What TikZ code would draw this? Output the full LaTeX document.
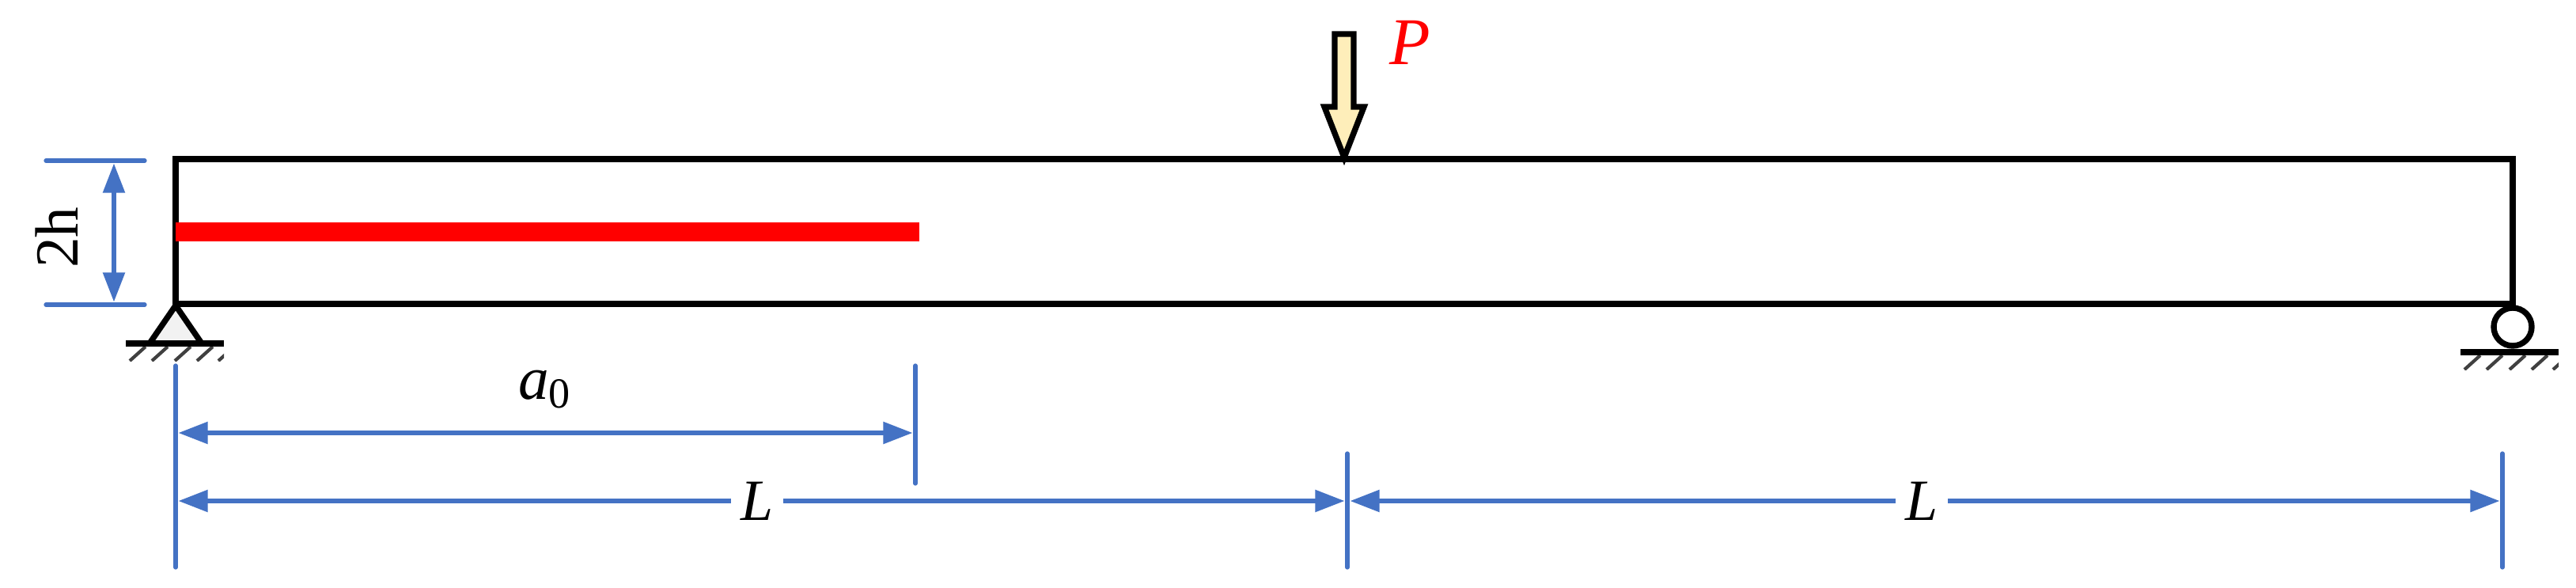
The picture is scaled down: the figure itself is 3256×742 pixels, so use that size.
\documentclass[tikz,border=0pt]{standalone}
\usepackage{fontspec}
\setmainfont{Liberation Serif}
\usetikzlibrary{arrows.meta}
\definecolor{dimblue}{HTML}{4472C4}
\definecolor{loadfill}{HTML}{FEEEBA}
\definecolor{hingefill}{HTML}{F2F2F2}
\tikzset{
	beam/.style={black,line width=2.1pt},
	dimline/.style={dimblue,line width=1.5pt,line cap=round},
	dimarrow/.style={dimblue,line width=1.5pt,{Triangle[length=3.7mm,width=2.7mm]}-{Triangle[length=3.7mm,width=2.7mm]},shorten <=1pt,shorten >=1pt},
	dimtext/.style={font=\fontsize{21}{21}\selectfont,inner sep=0pt}
}
\begin{document}
\begin{tikzpicture}[x=0.01cm,y=-0.01cm]
		\useasboundingbox (0,0) rectangle (3256,742);
		%beam and crack
		\draw[beam] (222,201) rectangle (3176,384);
		\fill[red] (222,281) rectangle (1162,305);
		%load
		\draw[beam,fill=loadfill,line join=miter] (1687,43) -- (1711,43) -- (1711,135) -- (1724,135) -- (1699,199) -- (1674,135) -- (1687,135) -- cycle;
		\node[red,font=\fontsize{24}{24}\selectfont\itshape,inner sep=0pt] (loadP) at (1782,54) {P};
		%left support
		\draw[beam,fill=hingefill,line join=round] (222,386) -- (255,434) -- (189,434) -- cycle;
		%right support
		\draw[beam,fill=white] (3176,413) circle (24);
		%ground lines
		\foreach \gx/\gy in {159/434,3110/445} {
		\draw[black,line width=2.2pt] (\gx,\gy) --++ (124,0);
		\begin{scope}
		\clip (\gx,\gy+4) rectangle (\gx+124,\gy+22);
		\foreach \i in {15,43,72,100,127}
		\draw[black!75,line width=1.2pt] (\gx+\i-10,\gy+22) -- (\gx+\i+10,\gy+4);
		\end{scope}
		}
		%height
		\draw[dimline] (58,203) -- (183,203);
		\draw[dimline] (58,385) -- (183,385);
		\draw[dimarrow] (144,203) -- (144,385);
		\node[dimtext,font=\fontsize{22}{22}\selectfont,rotate=90] (heightlabel) at (72,300) {2h};
		%lengths
		\draw[dimline] (222,462) -- (222,717);
		\draw[dimline] (1157,462) -- (1157,611);
		\draw[dimline] (1703,573) -- (1703,717);
		\draw[dimline] (3163,573) -- (3163,717);
		\draw[dimarrow] (222,547) -- (1157,547);
		\draw[dimarrow] (222,633) -- (1703,633);
		\draw[dimarrow] (1703,633) -- (3163,633);
		\node[dimtext,font=\fontsize{22}{22}\selectfont] (cracklabel) at (689,492) {\textit{a}\textsubscript{0}};
		\node[dimtext,fill=white,inner xsep=0.12cm,inner ysep=1pt] (leftL) at (957,633) {\textit{L}};
		\node[dimtext,fill=white,inner xsep=0.12cm,inner ysep=1pt] (rightL) at (2429,633) {\textit{L}};
\end{tikzpicture}
\end{document}
